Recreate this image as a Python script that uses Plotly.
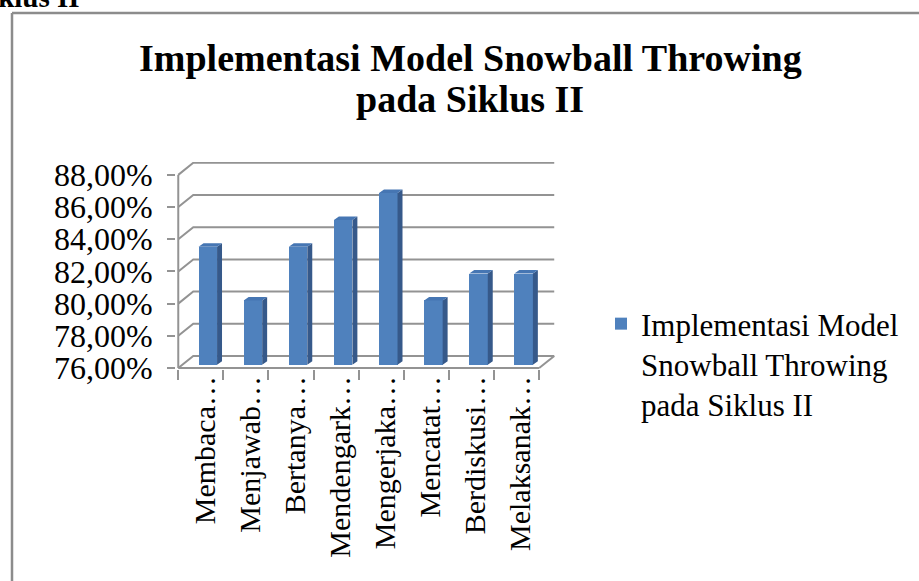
import plotly.graph_objects as go

# ---------------- data ----------------
categories = ["Membaca…", "Menjawab…", "Bertanya…", "Mendengark…",
              "Mengerjaka…", "Mencatat…", "Berdiskusi…", "Melaksanak…"]
values = [83.33, 80.00, 83.33, 85.00, 86.67, 80.00, 81.67, 81.67]
y_ticks = [76, 78, 80, 82, 84, 86, 88]
y_tick_labels = ["76,00%", "78,00%", "80,00%", "82,00%", "84,00%", "86,00%", "88,00%"]
series_name = "Implementasi Model<br>Snowball Throwing<br>pada Siklus II"
title_lines = ["Implementasi Model Snowball Throwing", "pada Siklus II"]
doc_text = "Siklus II"

# ---------------- styling / geometry ----------------
FONT = "Liberation Serif"
BASE = y_ticks[0]
N = len(categories)
DX, DY = 0.333, 0.75          # depth of the back wall (axis units)
BOFF_X, BOFF_Y = 0.155, 0.2   # bar front-face shift (mid depth)
BW = 0.41                     # bar front width
BDX, BDY = 0.11, 0.22         # bar depth
LBL_OFF = 0.09                # category label shift
GRID = "#939393"
FRONT = "#4F81BD"
SIDE = "#36598A"
TOP = "#4676B3"

W, H = 919, 581
ML, MR, MT, MB = 176, 364, 162, 212
XR = [-0.05, 8.35]
YR = [75.94, 88.8]

fig = go.Figure()

# front faces
centers = [i + 0.5 + BOFF_X for i in range(N)]
fig.add_trace(go.Bar(
    x=centers, y=[v - BASE for v in values], base=BASE + BOFF_Y, width=BW,
    marker=dict(color=FRONT, line=dict(width=0)),
    name=series_name, showlegend=True,
    customdata=values, hovertemplate="%{customdata:.2f}%<extra></extra>",
))

# side faces and top faces
sx, sy, tx, ty = [], [], [], []
for c, v in zip(centers, values):
    xl, xr = c - BW / 2, c + BW / 2
    top = v + BOFF_Y
    bot = BASE + BOFF_Y
    sx += [xr, xr + BDX, xr + BDX, xr, xr, None]
    sy += [bot, bot + BDY, top + BDY, top, bot, None]
    tx += [xl, xl + BDX, xr + BDX, xr, xl, None]
    ty += [top, top + BDY, top + BDY, top, top, None]
fig.add_trace(go.Scatter(x=sx, y=sy, fill="toself", fillcolor=SIDE, mode="lines",
                         line=dict(width=0, color=SIDE), showlegend=False, hoverinfo="skip"))
fig.add_trace(go.Scatter(x=tx, y=ty, fill="toself", fillcolor=TOP, mode="lines",
                         line=dict(width=0, color=TOP), showlegend=False, hoverinfo="skip"))

shapes = []
# gridlines: side wall + back wall
for v in y_ticks:
    shapes.append(dict(type="path", xref="x", yref="y", layer="below",
                       path=f"M 0,{v} L {DX},{v + DY} L {N + DX},{v + DY}",
                       line=dict(color=GRID, width=2)))
# floor front edge and right edge, front vertical axis
shapes.append(dict(type="line", xref="x", yref="y", layer="below",
                   x0=0, y0=BASE, x1=N, y1=BASE, line=dict(color=GRID, width=2)))
shapes.append(dict(type="line", xref="x", yref="y", layer="below",
                   x0=N, y0=BASE, x1=N + DX, y1=BASE + DY, line=dict(color=GRID, width=2)))
shapes.append(dict(type="line", xref="x", yref="y", layer="below",
                   x0=0, y0=BASE, x1=0, y1=y_ticks[-1], line=dict(color=GRID, width=2)))

# chart frame (left and top edges visible)
pw, ph = W - ML - MR, H - MT - MB
def px_x(p):
    return (p - ML) / pw
def px_y(p):
    return (H - MB - p) / ph
shapes.append(dict(type="line", xref="paper", yref="paper",
                   x0=px_x(12), y0=px_y(13), x1=px_x(12), y1=px_y(600),
                   line=dict(color="#8c8c8c", width=2.5)))
shapes.append(dict(type="line", xref="paper", yref="paper",
                   x0=px_x(12), y0=px_y(13), x1=px_x(920), y1=px_y(13),
                   line=dict(color="#8c8c8c", width=2.5)))

annotations = [
    dict(text=f"<b>{doc_text}</b>", xref="paper", yref="paper",
         x=px_x(82), y=px_y(15), xanchor="right", yanchor="bottom",
         showarrow=False, font=dict(family=FONT, size=29, color="black")),
    dict(text=f"<b>{title_lines[0]}</b>", xref="paper", yref="paper",
         x=px_x(470), y=px_y(58), xanchor="center", yanchor="middle",
         showarrow=False, font=dict(family=FONT, size=38, color="black")),
    dict(text=f"<b>{title_lines[1]}</b>", xref="paper", yref="paper",
         x=px_x(470), y=px_y(99), xanchor="center", yanchor="middle",
         showarrow=False, font=dict(family=FONT, size=38, color="black")),
]

fig.update_layout(
    width=W, height=H,
    margin=dict(l=ML, r=MR, t=MT, b=MB, autoexpand=False),
    paper_bgcolor="white", plot_bgcolor="rgba(0,0,0,0)",
    font=dict(family=FONT, color="black"),
    shapes=shapes,
    annotations=annotations,
    showlegend=True,
    legend=dict(x=601 / W, y=1 - 297 / H, xref="container", yref="container",
                xanchor="left", yanchor="top",
                font=dict(family=FONT, size=31, color="black"),
                valign="top", bgcolor="rgba(0,0,0,0)", itemwidth=30),
    bargap=0,
)
fig.update_xaxes(range=XR, showgrid=False, zeroline=False, showline=False, automargin=False,
                 tickmode="array", tickvals=[i + 0.5 + LBL_OFF for i in range(N)], ticktext=categories,
                 tickangle=-90, ticks="", tickfont=dict(family=FONT, size=30, color="black"),
                 minor=dict(tickmode="array", tickvals=list(range(N + 1)), ticks="outside",
                            ticklen=10, tickwidth=2, tickcolor=GRID))
fig.update_yaxes(range=YR, showgrid=False, zeroline=False, showline=False, automargin=False,
                 tickmode="array", tickvals=y_ticks, ticktext=y_tick_labels,
                 ticks="outside", ticklen=8, tickwidth=2, tickcolor=GRID,
                 ticklabelstandoff=8,
                 tickfont=dict(family=FONT, size=32, color="black"))

fig.write_html("out.html", config={"displayModeBar": False},
               post_script="document.body.style.margin='0';document.body.style.padding='0';")
